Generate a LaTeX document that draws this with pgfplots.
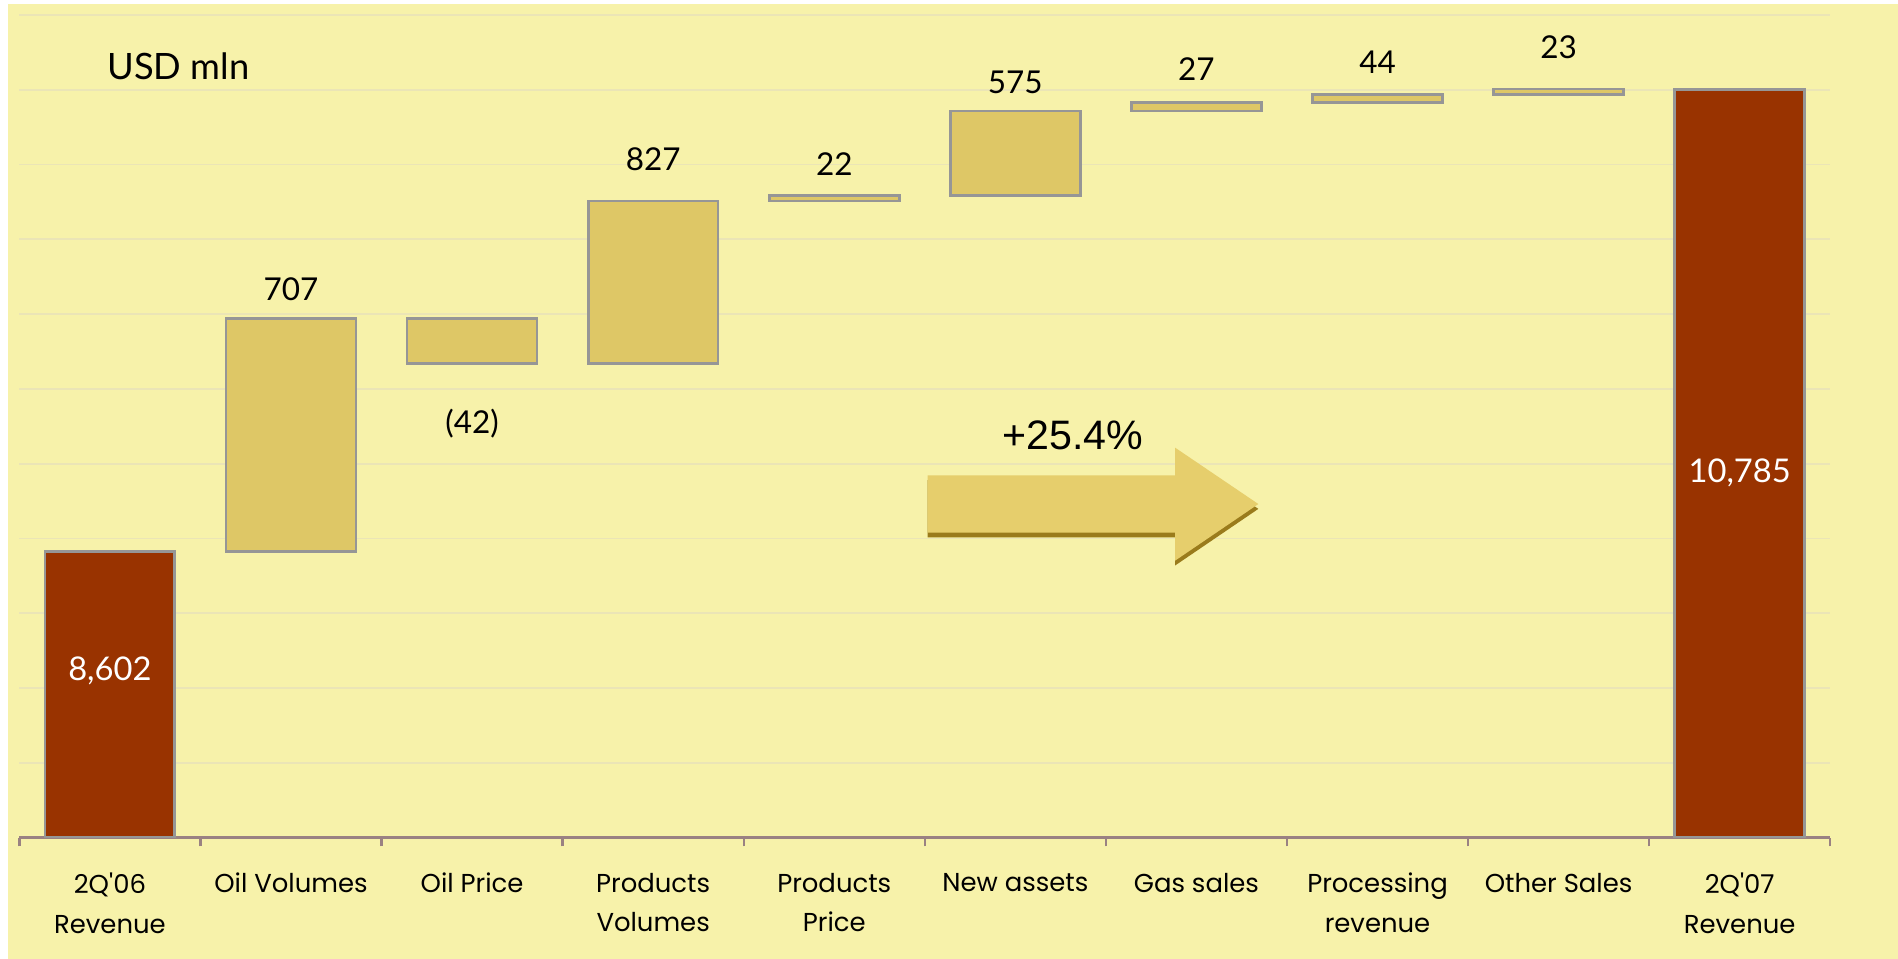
\documentclass[border=0pt]{standalone}
\usepackage{fontspec}
\setmainfont{Lato}
\newfontfamily\poppins{Poppins}
\newfontfamily\arial{Liberation Sans}
\usepackage{pgfplots}
\pgfplotsset{compat=1.18}
\definecolor{bgyellow}{HTML}{F7F2AA}
\definecolor{gridcol}{HTML}{EBE5B6}
\definecolor{darkred}{HTML}{993300}
\definecolor{gold}{HTML}{DEC766}
\definecolor{bargray}{HTML}{969696}
\definecolor{axisgray}{HTML}{9A8282}
\definecolor{arrowfill}{HTML}{E6CE6C}
\definecolor{arrowshadow}{HTML}{9A7B1C}
\begin{document}
\begin{tikzpicture}
\fill[white] (-8pt,-50pt) rectangle (776pt,346pt);
\fill[bgyellow] (-4.7pt,-50pt) rectangle (776pt,344.35pt);
\pgfplotsset{
  common/.style={
    at={(0pt,0pt)}, anchor=south west,
    scale only axis, width=748pt, height=339.85pt,
    xmin=-0.5, xmax=9.5, ymin=7250, ymax=11137.4,
    scaled y ticks=false,
  }
}
\begin{axis}[common,
  clip mode=individual,
  axis x line*=bottom, axis y line*=left,
  x axis line style={draw=axisgray, line width=1.1pt, -},
  y axis line style={draw=none},
  xtick={0,...,9},
  xticklabels={{2Q\textquotesingle06\\Revenue},{Oil Volumes},{Oil Price},{Products\\Volumes},{Products\\Price},{New assets},{Gas sales},{Processing\\revenue},{Other Sales},{2Q\textquotesingle07\\Revenue}},
  major tick length=0pt,
  minor xtick={-0.5,0.5,...,9.5},
  minor tick length=3.6pt,
  tick align=outside,
  minor tick style={draw=axisgray, line width=1pt},
  ytick style={draw=none},
  xticklabel style={font=\poppins\fontsize{10.7}{16.3}\selectfont, align=center, anchor=north, inner sep=0pt, yshift=-14.5pt},
  ymajorgrids,
  ytick={7603.4,7956.8,8310.2,8663.6,9017.0,9370.4,9723.8,10077.2,10430.6,10784.0,11137.4},
  yticklabels={},
  major grid style={draw=gridcol, line width=0.7pt},
]
\addplot[ybar, bar width=0.717, bar shift=0pt, fill=darkred, draw=bargray, line width=1.1pt] coordinates {(0,8602.5) (9,10785.5)};
% arrow with shadow
\fill[arrowshadow] (axis cs:4.516,8938.8) -- (axis cs:5.882,8938.8) -- (axis cs:5.882,9069.8) -- (axis cs:6.342,8803.3) -- (axis cs:5.882,8535.6) -- (axis cs:5.882,8668.3) -- (axis cs:4.516,8668.3) -- cycle;
\fill[arrowfill] (axis cs:4.516,8961.7) -- (axis cs:5.882,8961.7) -- (axis cs:5.882,9092.7) -- (axis cs:6.342,8826.2) -- (axis cs:5.882,8558.5) -- (axis cs:5.882,8691.2) -- (axis cs:4.516,8691.2) -- cycle;
\node[font=\arial\fontsize{17}{20}\selectfont] at (axis cs:5.316,9152.1) {+25.4\%};
\node[font=\fontsize{15}{18}\selectfont] at (axis cs:0.379,10893.6) {USD mln};
\node[font=\fontsize{13.5}{16}\selectfont, text=white] at (axis cs:0,8039.2) {8,602};
\node[font=\fontsize{13.5}{16}\selectfont, text=white] at (axis cs:9,8973.1) {10,785};
\node[font=\fontsize{13}{16}\selectfont] at (axis cs:1,9839.6) {707};
\node[font=\fontsize{13}{16}\selectfont] at (axis cs:2,9205.9) {(42)};
\node[font=\fontsize{13}{16}\selectfont] at (axis cs:3,10453.8) {827};
\node[font=\fontsize{13}{16}\selectfont] at (axis cs:4,10433.2) {22};
\node[font=\fontsize{13}{16}\selectfont] at (axis cs:5,10819.8) {575};
\node[font=\fontsize{13}{16}\selectfont] at (axis cs:6,10882.1) {27};
\node[font=\fontsize{13}{16}\selectfont] at (axis cs:7,10913.6) {44};
\node[font=\fontsize{13}{16}\selectfont] at (axis cs:8,10984.5) {23};
\end{axis}
\begin{axis}[common, hide axis, ybar stacked, bar width=0.717]
\addplot[draw=none, fill=none] coordinates {(1,8602.5) (2,9490.1) (3,9490.1) (4,10258.2) (5,10283.4) (6,10683.7) (7,10723.7) (8,10762.0)};
\addplot[fill=gold, draw=bargray, line width=1.1pt] coordinates {(1,1099.2) (2,211.6) (3,768.1) (4,25.2) (5,400.3) (6,40.0) (7,38.3) (8,25.2)};
\end{axis}
\end{tikzpicture}
\end{document}
